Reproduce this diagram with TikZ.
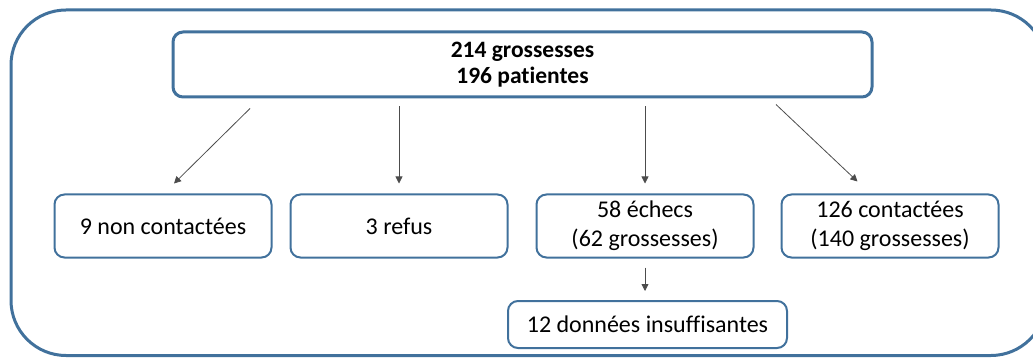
\documentclass[tikz,border=0pt]{standalone}
\usepackage{fontspec}
\setmainfont{Carlito}[Ligatures=NoCommon]
\usetikzlibrary{calc, positioning, arrows.meta}
\definecolor{cadrebleu}{RGB}{65,113,156}

\begin{document}
\begin{tikzpicture}[
			x=1pt, y=-1pt,
			boite/.style={draw=cadrebleu, line width=2pt, rounded corners=10pt, align=center, inner sep=0pt,
				minimum width=217pt, minimum height=63pt, font=\fontsize{24}{29}\selectfont},
			fleche/.style={-{Triangle[length=7pt, width=7pt]}, draw=black!70, line width=0.8pt},
			]
			\useasboundingbox (0,0) rectangle (1033,358);
			
			% Cadre
			\draw[cadrebleu, line width=3pt, rounded corners=55pt] (11,10) rectangle (1046,355.5);
			
			% Boîtes
			\node[boite, line width=3pt, minimum width=699pt, minimum height=65pt, font=\bfseries\fontsize{23.5}{26}\selectfont] (Total) at (522.5,64.5) {214 grossesses\\196 patientes};
			\node[boite] (NonContact) at (163,226) {9 non contactées};
			\node[boite, right=17pt of NonContact] (Refus) {3 refus};
			\node[boite, right=27pt of Refus] (Echecs) {58 échecs\\(62 grossesses)};
			\node[boite, right=26pt of Echecs] (Contact) {126 contactées\\(140 grossesses)};
			\node[boite, minimum width=279pt, minimum height=47pt] (Insuff) at (647.5,324.5) {12 données insuffisantes};
			
			% Flèches
			\draw[fleche] ($(Total.south)+(-272.5,10)$) -- ($(NonContact.north)+(11,-10)$);
			\draw[fleche, shorten <=8pt, shorten >=10pt] (Total.south -| Refus.north) -- (Refus.north);
			\draw[fleche, shorten <=8pt, shorten >=10pt] (Total.south -| Echecs.north) -- (Echecs.north);
			\draw[fleche] ($(Total.south)+(253.5,6)$) -- ($(Contact.north)+(-32.5,-12)$);
			\draw[fleche, shorten <=9pt, shorten >=9pt] (Echecs.south) -- (Echecs.south |- Insuff.north);
			
		\end{tikzpicture}
\end{document}
